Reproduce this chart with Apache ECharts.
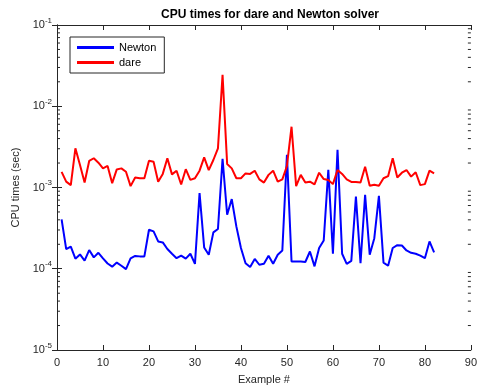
<!DOCTYPE html>
<html>
<head>
<meta charset="utf-8">
<script src="https://cdn.jsdelivr.net/npm/echarts@6/dist/echarts.min.js"></script>
<style>
  html, body { margin: 0; padding: 0; background: #fff; }
  #main { width: 480px; height: 390px; }
</style>
</head>
<body>
<div id="main"></div>
<script>
// example numbers 1..82
const examples = [];
for (let i = 1; i <= 82; i++) examples.push(i);

const newtonTimes = [
  4.06e-4, 1.74e-4, 1.87e-4, 1.33e-4, 1.50e-4, 1.26e-4, 1.70e-4, 1.38e-4, 1.57e-4, 1.34e-4,
  1.16e-4, 1.06e-4, 1.19e-4, 1.09e-4, 0.99e-4, 1.34e-4, 1.44e-4, 1.42e-4, 1.42e-4, 3.02e-4,
  2.88e-4, 2.17e-4, 2.11e-4, 1.75e-4, 1.53e-4, 1.35e-4, 1.45e-4, 1.33e-4, 1.53e-4, 1.15e-4,
  8.55e-4, 1.83e-4, 1.49e-4, 2.80e-4, 3.08e-4, 2.26e-3, 4.62e-4, 7.20e-4, 3.32e-4, 1.80e-4,
  1.17e-4, 1.05e-4, 1.32e-4, 1.12e-4, 1.15e-4, 1.45e-4, 1.15e-4, 1.49e-4, 1.68e-4, 2.53e-3,
  1.23e-4, 1.23e-4, 1.23e-4, 1.21e-4, 1.63e-4, 1.07e-4, 1.80e-4, 2.23e-4, 1.65e-3, 1.53e-4,
  2.92e-3, 1.53e-4, 1.15e-4, 1.25e-4, 7.76e-4, 1.17e-4, 8.15e-4, 1.49e-4, 2.38e-4, 7.90e-4,
  1.19e-4, 1.09e-4, 1.80e-4, 1.95e-4, 1.93e-4, 1.68e-4, 1.57e-4, 1.53e-4, 1.45e-4, 1.35e-4,
  2.17e-4, 1.59e-4
];

const dareTimes = [
  1.56e-3, 1.18e-3, 1.07e-3, 3.04e-3, 1.89e-3, 1.15e-3, 2.12e-3, 2.29e-3, 2.02e-3, 1.72e-3,
  1.84e-3, 1.13e-3, 1.67e-3, 1.72e-3, 1.56e-3, 1.04e-3, 1.33e-3, 1.30e-3, 1.30e-3, 2.14e-3,
  2.08e-3, 1.18e-3, 1.47e-3, 2.29e-3, 1.45e-3, 1.61e-3, 1.09e-3, 1.68e-3, 1.24e-3, 1.30e-3,
  1.61e-3, 2.35e-3, 1.64e-3, 2.18e-3, 3.04e-3, 2.43e-2, 1.95e-3, 1.72e-3, 1.30e-3, 1.30e-3,
  1.49e-3, 1.47e-3, 1.61e-3, 1.26e-3, 1.15e-3, 1.43e-3, 1.61e-3, 1.18e-3, 1.26e-3, 1.84e-3,
  5.60e-3, 1.04e-3, 1.43e-3, 1.15e-3, 1.18e-3, 1.09e-3, 1.52e-3, 1.27e-3, 1.24e-3, 1.10e-3,
  1.64e-3, 1.47e-3, 1.26e-3, 1.17e-3, 1.17e-3, 1.15e-3, 1.80e-3, 1.05e-3, 1.08e-3, 1.05e-3,
  1.30e-3, 1.38e-3, 2.29e-3, 1.33e-3, 1.52e-3, 1.64e-3, 1.36e-3, 1.54e-3, 1.07e-3, 1.10e-3,
  1.61e-3, 1.49e-3
];

// minor tick values 2..9 x 10^k on the log axis
const minorTickValues = [];
for (let k = -5; k < -1; k++) {
  for (let m = 2; m <= 9; m++) minorTickValues.push(m * Math.pow(10, k));
}

const axisColor = '#262626';
const fontFamily = 'Liberation Sans, Arial, sans-serif';

const chart = echarts.init(document.getElementById('main'), null, { renderer: 'canvas' });

function pairs(vals) {
  return vals.map((v, i) => [examples[i], v]);
}

function logLabel(v) {
  const e = Math.round(Math.log10(v));
  return '{b|10}{s|' + e + '}';
}

const yLabelRich = {
  b: { fontSize: 11, color: axisColor, fontFamily: fontFamily },
  s: { fontSize: 8, color: axisColor, fontFamily: fontFamily, verticalAlign: 'top', padding: [0, 0, 9, 0] }
};

let option = {
  animation: false,
  backgroundColor: '#ffffff',
  title: {
    text: 'CPU times for dare and Newton solver',
    left: 265,
    textAlign: 'center',
    top: 4,
    textStyle: { fontSize: 12, fontWeight: 'bold', color: '#000', fontFamily: fontFamily }
  },
  legend: {
    orient: 'vertical',
    left: 70,
    top: 37,
    padding: [5, 8, 5, 7],
    itemGap: 4,
    itemWidth: 37,
    itemHeight: 3,
    icon: 'rect',
    borderColor: axisColor,
    borderWidth: 1,
    borderRadius: 0,
    backgroundColor: '#fff',
    textStyle: { fontSize: 11, color: '#000', fontFamily: fontFamily },
    data: ['Newton', 'dare']
  },
  grid: { left: 57, right: 6, top: 25, bottom: 40, containLabel: false },
  xAxis: [
    {
      type: 'value', min: 0, max: 90, interval: 10,
      name: 'Example #', nameLocation: 'middle', nameGap: 24,
      nameTextStyle: { fontSize: 11, color: axisColor, fontFamily: fontFamily },
      axisLine: { lineStyle: { color: axisColor, width: 1 } },
      axisTick: { inside: true, length: 5, lineStyle: { color: axisColor } },
      axisLabel: { fontSize: 11, color: axisColor, fontFamily: fontFamily, margin: 7 },
      splitLine: { show: false }
    },
    {
      type: 'value', min: 0, max: 90, interval: 10, position: 'top',
      axisLine: { lineStyle: { color: axisColor, width: 1 } },
      axisTick: { inside: true, length: 5, lineStyle: { color: axisColor } },
      axisLabel: { show: false },
      splitLine: { show: false }
    }
  ],
  yAxis: [
    {
      type: 'log', logBase: 10, min: 1e-5, max: 1e-1,
      name: 'CPU times (sec)', nameLocation: 'middle', nameGap: 31,
      nameTextStyle: { fontSize: 11, color: axisColor, fontFamily: fontFamily },
      axisLine: { show: true, lineStyle: { color: axisColor, width: 1 } },
      axisTick: { inside: true, length: 5, lineStyle: { color: axisColor } },
      axisLabel: { formatter: logLabel, rich: yLabelRich, margin: 5 },
      splitLine: { show: false }
    },
    {
      type: 'log', logBase: 10, min: 1e-5, max: 1e-1, position: 'right',
      axisLine: { show: true, lineStyle: { color: axisColor, width: 1 } },
      axisTick: { inside: true, length: 5, lineStyle: { color: axisColor } },
      axisLabel: { show: false },
      splitLine: { show: false }
    }
  ],
  series: [
    {
      name: 'Newton', type: 'line', data: pairs(newtonTimes),
      showSymbol: false, symbol: 'none',
      lineStyle: { color: '#0000ff', width: 2 }, itemStyle: { color: '#0000ff' }
    },
    {
      name: 'dare', type: 'line', data: pairs(dareTimes),
      showSymbol: false, symbol: 'none',
      lineStyle: { color: '#ff0000', width: 2 }, itemStyle: { color: '#ff0000' }
    },
    {
      // minor log ticks on left and right edges
      type: 'custom', silent: true, clip: false,
      data: minorTickValues.map(v => [0, v]),
      renderItem: function (params, api) {
        const pl = api.coord([0, api.value(1)]);
        const pr = api.coord([90, api.value(1)]);
        const style = { stroke: axisColor, lineWidth: 1 };
        return {
          type: 'group',
          children: [
            { type: 'line', shape: { x1: pl[0], y1: pl[1], x2: pl[0] + 3, y2: pl[1] }, style: style },
            { type: 'line', shape: { x1: pr[0], y1: pr[1], x2: pr[0] - 3, y2: pr[1] }, style: style }
          ]
        };
      },
      z: 1
    }
  ]
};

chart.setOption(option);
</script>
</body>
</html>
